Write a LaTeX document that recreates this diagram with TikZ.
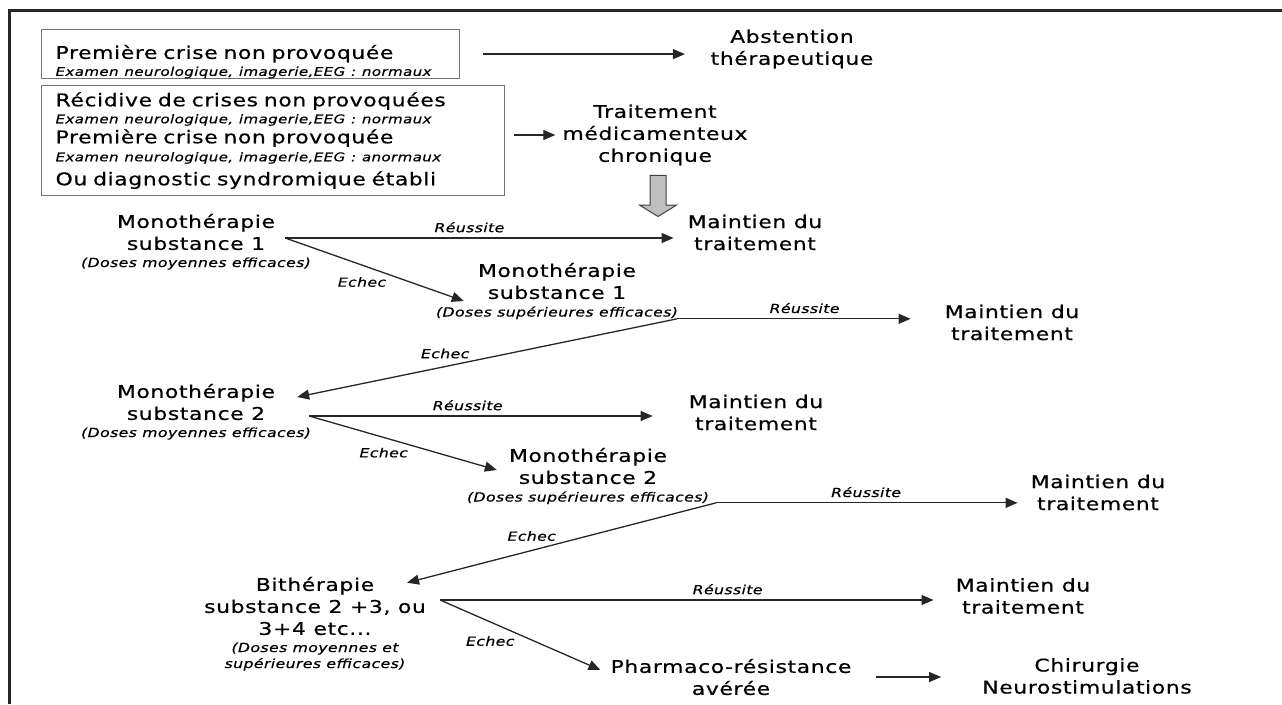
\documentclass[tikz,border=0pt]{standalone}
\usepackage{fontspec}
\setmainfont{DejaVu Sans}
\newfontfamily\comic[FakeStretch=1.25,LetterSpace=3.5,FakeBold=0.6]{DejaVu Sans}
\usetikzlibrary{arrows.meta,calc,positioning,shapes.arrows}

\newcommand{\grand}{\comic\fontsize{17.5}{22}\selectfont}
\newcommand{\petit}{\comic\itshape\fontsize{12.5}{16}\selectfont}
\newcommand{\mini}{\comic\itshape\fontsize{12}{15}\selectfont}

\begin{document}
\begin{tikzpicture}[x=1pt, y=-1pt,
		txt/.style = {align=center, inner sep=2pt, font=\grand},
		dose/.style = {align=center, inner sep=1pt, font=\petit},
		cadre/.style = {draw=black!55, line width=1.2pt, align=left, anchor=north west,
				inner ysep=0pt, inner xsep=14pt, font=\grand},
		fleche/.style = {draw=black!85, line width=1.3pt, -{Triangle[length=12pt,width=10pt]}},
		etiq/.style = {font=\petit, inner sep=2pt},
		grosse/.style = {single arrow, draw=black!75, fill=black!25, line width=1pt,
				single arrow head extend=10.5pt, single arrow tip angle=117,
				minimum height=41pt, inner sep=7.5pt, shape border rotate=270}
	]
	\useasboundingbox (0,0) rectangle (1282,704);
	\draw[line width=3pt, black!85] (9,704) -- (9,10) -- (1282,10);

	% cadres du haut
	\node[cadre, minimum width=418pt, minimum height=49pt, text width=390pt] (b1) at (41,29)
		{\rule{0pt}{29pt}Première crise non provoquée\\[-5pt]
		{\mini Examen neurologique, imagerie,EEG : normaux}};
	\node[cadre, minimum width=463pt, minimum height=110pt, text width=435pt] (b2) at (41,85)
		{Récidive de crises non provoquées\\[-5pt]
		{\mini Examen neurologique, imagerie,EEG : normaux}\\[-2pt]
		Première crise non provoquée\\[-4pt]
		{\mini Examen neurologique, imagerie,EEG : anormaux}\\[2pt]
		Ou diagnostic syndromique établi};
	\node[txt] (ab) at (792,49) {Abstention\\thérapeutique};
	\node[txt] (tr) at (655,135) {Traitement\\médicamenteux\\chronique};
	\node[grosse] (fl) at (658,193.5) {};
	\node[txt] (mt1) at (755,232.5) {Maintien du\\traitement};

	% monotherapies
	\node[txt] (m1) at (196,232) {Monothérapie\\substance 1};
	\node[dose, below=4pt of m1] (d1) {(Doses moyennes efficaces)};
	\node[txt] (m1b) at (557,281) {Monothérapie\\substance 1};
	\node[dose, below=4pt of m1b] (d1b) {(Doses supérieures efficaces)};
	\node[txt] (mt2) at (1012,322.5) {Maintien du\\traitement};
	\node[txt] (m2) at (196,402) {Monothérapie\\substance 2};
	\node[dose, below=4pt of m2] (d2) {(Doses moyennes efficaces)};
	\node[txt] (mt3) at (756,412.5) {Maintien du\\traitement};
	\node[txt] (m2b) at (588,466) {Monothérapie\\substance 2};
	\node[dose, below=4pt of m2b] (d2b) {(Doses supérieures efficaces)};
	\node[txt] (mt4) at (1098,492.5) {Maintien du\\traitement};

	% bitherapie
	\node[txt] (bi) at (315,606) {Bithérapie\\substance 2 +3, ou\\3+4 etc...};
	\node[dose, below=4pt of bi] (db) {(Doses moyennes et\\supérieures efficaces)};
	\node[txt] (mt5) at (1023,596) {Maintien du\\traitement};
	\node[txt] (ph) at (731,677) {Pharmaco-résistance\\avérée};
	\node[txt] (ch) at (1087,676) {Chirurgie\\Neurostimulations};

	\coordinate (o1) at ($(m1.east)+(8,6)$);
	\coordinate (o1b) at ($(d1b.east)+(-2,6)$);
	\coordinate (o2) at ($(m2.east)+(32,14)$);
	\coordinate (o2b) at ($(d2b.east)+(6,5)$);
	\coordinate (ob) at ($(bi.east)+(12,-6)$);

	% fleches
	\draw[fleche, shorten <=23pt, shorten >=23.5pt] (b1.east) -- (b1.east -| ab.west);
	\draw[fleche, shorten <=9pt, shorten >=5pt] (b2.east |- tr.west) -- (tr.west);
	\draw[fleche, shorten >=12pt] (o1) -- (o1 -| mt1.west) node[etiq, pos=.46, above=3pt] {Réussite};
	\draw[fleche] (o1) -- ($(m1b.west)+(-12,20)$) node[etiq, pos=.58, below left] {Echec};
	\draw[fleche, shorten >=32pt] (o1b) -- (o1b -| mt2.west) node[etiq, pos=.48, above=3pt] {Réussite};
	\draw[fleche] (o1b) -- ($(m2.east)+(20,-5)$) node[etiq, pos=.54, above left] {Echec};
	\draw[fleche, shorten >=34pt] (o2) -- (o2 -| mt3.west) node[etiq, pos=.42, above=3pt] {Réussite};
	\draw[fleche] (o2) -- ($(m2b.west)+(-10,4)$) node[etiq, pos=.54, below left] {Echec};
	\draw[fleche, shorten >=11pt] (o2b) -- (o2b -| mt4.west) node[etiq, pos=.48, above=3pt] {Réussite};
	\draw[fleche] (o2b) -- ($(bi.north east)+(-21,8)$) node[etiq, pos=.51, above left] {Echec};
	\draw[fleche, shorten >=20pt] (ob) -- (ob -| mt5.west) node[etiq, pos=.56, above=3pt] {Réussite};
	\draw[fleche] (ob) -- ($(ph.west)+(-8,-7)$) node[etiq, pos=.48, below left] {Echec};
	\draw[fleche, shorten <=22pt, shorten >=39pt] (ph.east) -- (ph.east -| ch.west);
\end{tikzpicture}
\end{document}
